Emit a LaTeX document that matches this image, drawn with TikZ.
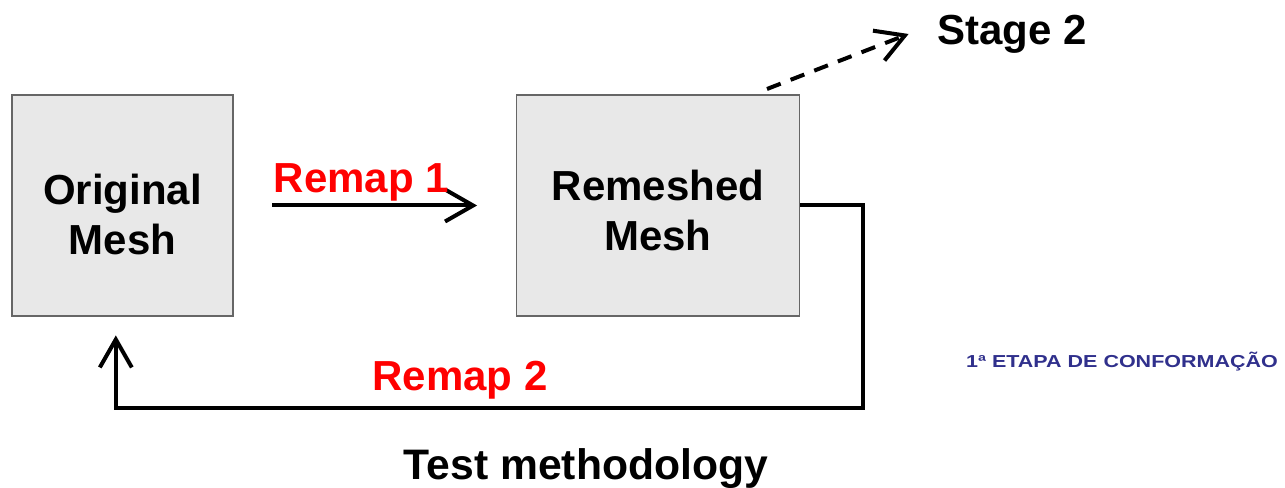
\documentclass[tikz,border=0pt]{standalone}
\usepackage{fontspec}
\setmainfont{Liberation Sans}
\usetikzlibrary{positioning}
\usetikzlibrary{arrows.meta}
\definecolor{etapablue}{RGB}{48,48,140}

\begin{document}
\begin{tikzpicture}
  [
    x=0.75pt,y=-0.75pt,
    font=\fontsize{31.5}{37.5}\selectfont\bfseries,
    node distance=211.5pt,
    mesh/.style={
      rectangle,
      draw=black!60,
      fill=black!9,
      line width=1.1pt,
      inner sep=0pt,
      minimum height=165.75pt,minimum width=165.75pt
    },
    meshtext/.style={align=center,yshift=#1},
    flow/.style={line width=3pt,-{Straight Barb[length=21pt,width=24pt]}},
    remap/.style={text=red,inner sep=2pt},
  ]
  \useasboundingbox (0,0) rectangle (1285,488);

  \node[mesh,label={[meshtext=-7pt]center:{Original\\Mesh}}] at (122.5,205.5) (orig) {};
  \node[mesh,minimum width=212.25pt,right=of orig,
        label={[meshtext=-4pt]center:{Remeshed\\Mesh}}] (remesh) {};
  \node at (1012,34)                       (stage2)  {Stage 2};
  \node[font=\fontsize{32}{38}\selectfont\bfseries] at (586,469) (title) {Test methodology};
  \node[text=etapablue,font=\fontsize{13}{15}\selectfont\bfseries,
        xscale=1.24,transform shape] at (1122,362) (etapa) {1ª ETAPA DE CONFORMAÇÃO};
  \coordinate (out)  at (767,89);
  \coordinate (back) at (863,408);

  \draw[flow,shorten <=29pt,shorten >=29pt] (orig) --
      node[remap,above,xshift=-10pt] (remap1) {Remap 1}
        (remesh);
  \draw[flow,dash pattern=on 11pt off 8pt] (out) -- ([xshift=-18pt]stage2.west);
  \draw[flow,shorten >=14pt] (remesh.east) -| (back) -| ([xshift=-5pt]orig.south);
  \node[remap] at (460,380) (remap2) {Remap 2};
\end{tikzpicture}
\end{document}
